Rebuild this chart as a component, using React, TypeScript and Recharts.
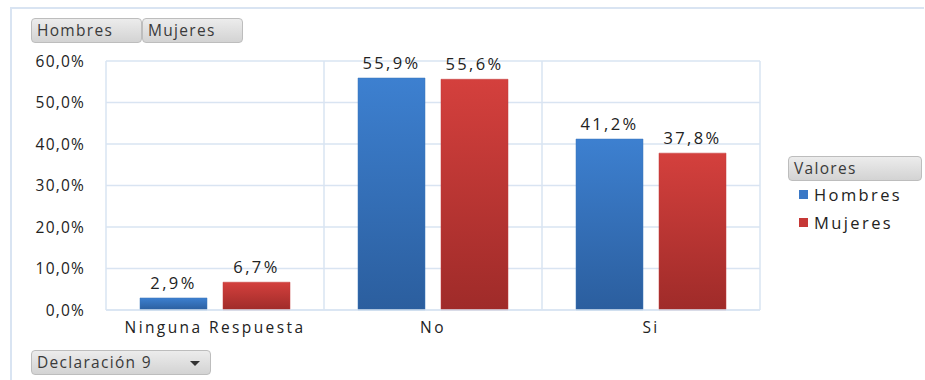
import { BarChart, Bar, XAxis, YAxis, CartesianGrid, LabelList } from "recharts";

const categories = ["Ninguna Respuesta", "No", "Si"];
const hombres = [2.9, 55.9, 41.2];
const mujeres = [6.7, 55.6, 37.8];
const yTicks = [0, 10, 20, 30, 40, 50, 60];

const data = categories.map((name, i) => ({ name, hombres: hombres[i], mujeres: mujeres[i] }));

const FONT = "'Open Sans', 'DejaVu Sans', sans-serif";
const GRID = "#d9e4f2";

const pct = (v: number) => `${v.toFixed(1).replace(".", ",")}%`;

const buttonStyle: React.CSSProperties = {
  position: "absolute",
  boxSizing: "border-box",
  height: 25,
  border: "1px solid #bdbdbd",
  borderRadius: 4,
  background: "linear-gradient(#ececec, #d3d3d3)",
  fontFamily: FONT,
  fontSize: 15.5,
  letterSpacing: 1.3,
  color: "#3a3a3a",
  lineHeight: "23px",
  paddingLeft: 5,
};

// legend drawn outside the chart so the plot keeps its full width
function LegendBox() {
  const items = [
    { label: "Hombres", color: "#3a78c6" },
    { label: "Mujeres", color: "#c63836" },
  ];
  return (
    <div style={{ position: "absolute", left: 788, top: 156, width: 134, fontFamily: FONT }}>
      <div style={{ ...buttonStyle, position: "relative", width: 134 }}>Valores</div>
      {items.map((it) => (
        <div key={it.label} style={{ display: "flex", alignItems: "center", height: 29, marginLeft: 11, marginTop: -1 }}>
          <span style={{ width: 9, height: 9, background: it.color, marginRight: 6 }} />
          <span style={{ fontSize: 16.5, color: "#222", letterSpacing: 2.4 }}>{it.label}</span>
        </div>
      ))}
    </div>
  );
}

export default function App() {
  return (
    <div style={{ position: "absolute", left: 0, top: 0, width: 925, height: 380, background: "#fff", overflow: "hidden" }}>
      {/* chart frame */}
      <div style={{ position: "absolute", left: 10, top: 7, width: 912, height: 380, borderTop: `2px solid ${GRID}`, borderLeft: `2px solid ${GRID}` }} />
      <BarChart
        width={925}
        height={380}
        data={data}
        margin={{ top: 61, right: 165, bottom: 40, left: 0 }}
        barCategoryGap={34}
        barGap={16}
        style={{ fontFamily: FONT }}
      >
        <defs>
          <linearGradient id="gBlue" x1="0" y1="0" x2="0" y2="1">
            <stop offset="0%" stopColor="#3d80d0" />
            <stop offset="100%" stopColor="#2b5e9e" />
          </linearGradient>
          <linearGradient id="gRed" x1="0" y1="0" x2="0" y2="1">
            <stop offset="0%" stopColor="#d4403d" />
            <stop offset="100%" stopColor="#9f2b29" />
          </linearGradient>
        </defs>
        <CartesianGrid
          stroke={GRID}
          strokeWidth={1.5}
          verticalCoordinatesGenerator={({ offset }: any) =>
            [0, 1, 2, 3].map((i) => offset.left + (offset.width * i) / 3)
          }
        />
        <XAxis
          dataKey="name"
          height={30}
          tickLine={false}
          axisLine={{ stroke: GRID, strokeWidth: 1.5 }}
          tickSize={0}
          tickMargin={12}
          tick={{ fontSize: 15.5, fill: "#222", letterSpacing: 2.4 }}
        />
        <YAxis
          width={106}
          domain={[0, 60]}
          ticks={yTicks}
          interval={0}
          tickLine={false}
          axisLine={false}
          tickSize={0}
          tickMargin={21}
          tickFormatter={pct}
          tick={{ fontSize: 15.5, fill: "#222", letterSpacing: 1.2 }}
        />
        <Bar dataKey="hombres" name="Hombres" fill="url(#gBlue)" stroke="#3a74bb" strokeWidth={0.5} isAnimationActive={false}>
          <LabelList dataKey="hombres" position="top" offset={9} formatter={(v: any) => pct(v as number)} style={{ fontSize: 16.5, fill: "#222", letterSpacing: 2.4 }} />
        </Bar>
        <Bar dataKey="mujeres" name="Mujeres" fill="url(#gRed)" stroke="#c13a38" strokeWidth={0.5} isAnimationActive={false}>
          <LabelList dataKey="mujeres" position="top" offset={9} formatter={(v: any) => pct(v as number)} style={{ fontSize: 16.5, fill: "#222", letterSpacing: 2.4 }} />
        </Bar>
      </BarChart>
      <LegendBox />
      <div style={{ ...buttonStyle, left: 31, top: 18, width: 111 }}>Hombres</div>
      <div style={{ ...buttonStyle, left: 142, top: 18, width: 101 }}>Mujeres</div>
      <div style={{ ...buttonStyle, left: 31, top: 350, width: 180 }}>
        Declaración 9
        <span
          style={{
            position: "absolute",
            right: 10,
            top: 10,
            width: 0,
            height: 0,
            borderLeft: "5px solid transparent",
            borderRight: "5px solid transparent",
            borderTop: "5px solid #333",
          }}
        />
      </div>
    </div>
  );
}
